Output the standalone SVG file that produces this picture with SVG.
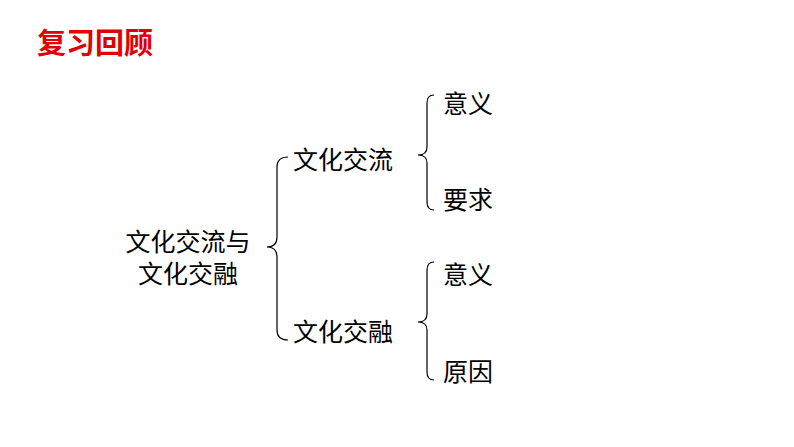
<svg xmlns="http://www.w3.org/2000/svg" width="794" height="447" viewBox="0 0 794 447">
<style>
text{font-family:"Liberation Sans","Noto Sans CJK SC",sans-serif;font-size:25px;fill:#000}
.t{fill:#e00000;font-size:29px;font-weight:bold}
.b{fill:none;stroke:#000;stroke-width:1.2}
</style>
<rect width="794" height="447" fill="#fff"/>
<g id="title"><text class="t" x="37" y="54">复习回顾</text></g>
<g id="root"><text x="188" y="251" text-anchor="middle">文化交流与</text><text x="188" y="283" text-anchor="middle">文化交融</text></g>
<g id="n1"><text x="293" y="169">文化交流</text></g>
<g id="n2"><text x="293" y="341">文化交融</text></g>
<g id="n3"><text x="443" y="113">意义</text></g>
<g id="n4"><text x="443" y="209">要求</text></g>
<g id="n5"><text x="443" y="284">意义</text></g>
<g id="n6"><text x="443" y="381">原因</text></g>
<g id="connectors">
<path class="b" d="M288 157 Q277 157 277 167 L277 237 Q277 247 267 247 Q277 247 277 257 L277 330 Q277 340 288 340"/>
<path class="b" d="M434 95 Q427 95 427 103 L427 147 Q427 155 418 155 Q427 155 427 163 L427 202 Q427 210 434 210"/>
<path class="b" d="M434 262 Q427 262 427 270 L427 314 Q427 322 418 322 Q427 322 427 330 L427 372 Q427 380 434 380"/>
</g>
</svg>
